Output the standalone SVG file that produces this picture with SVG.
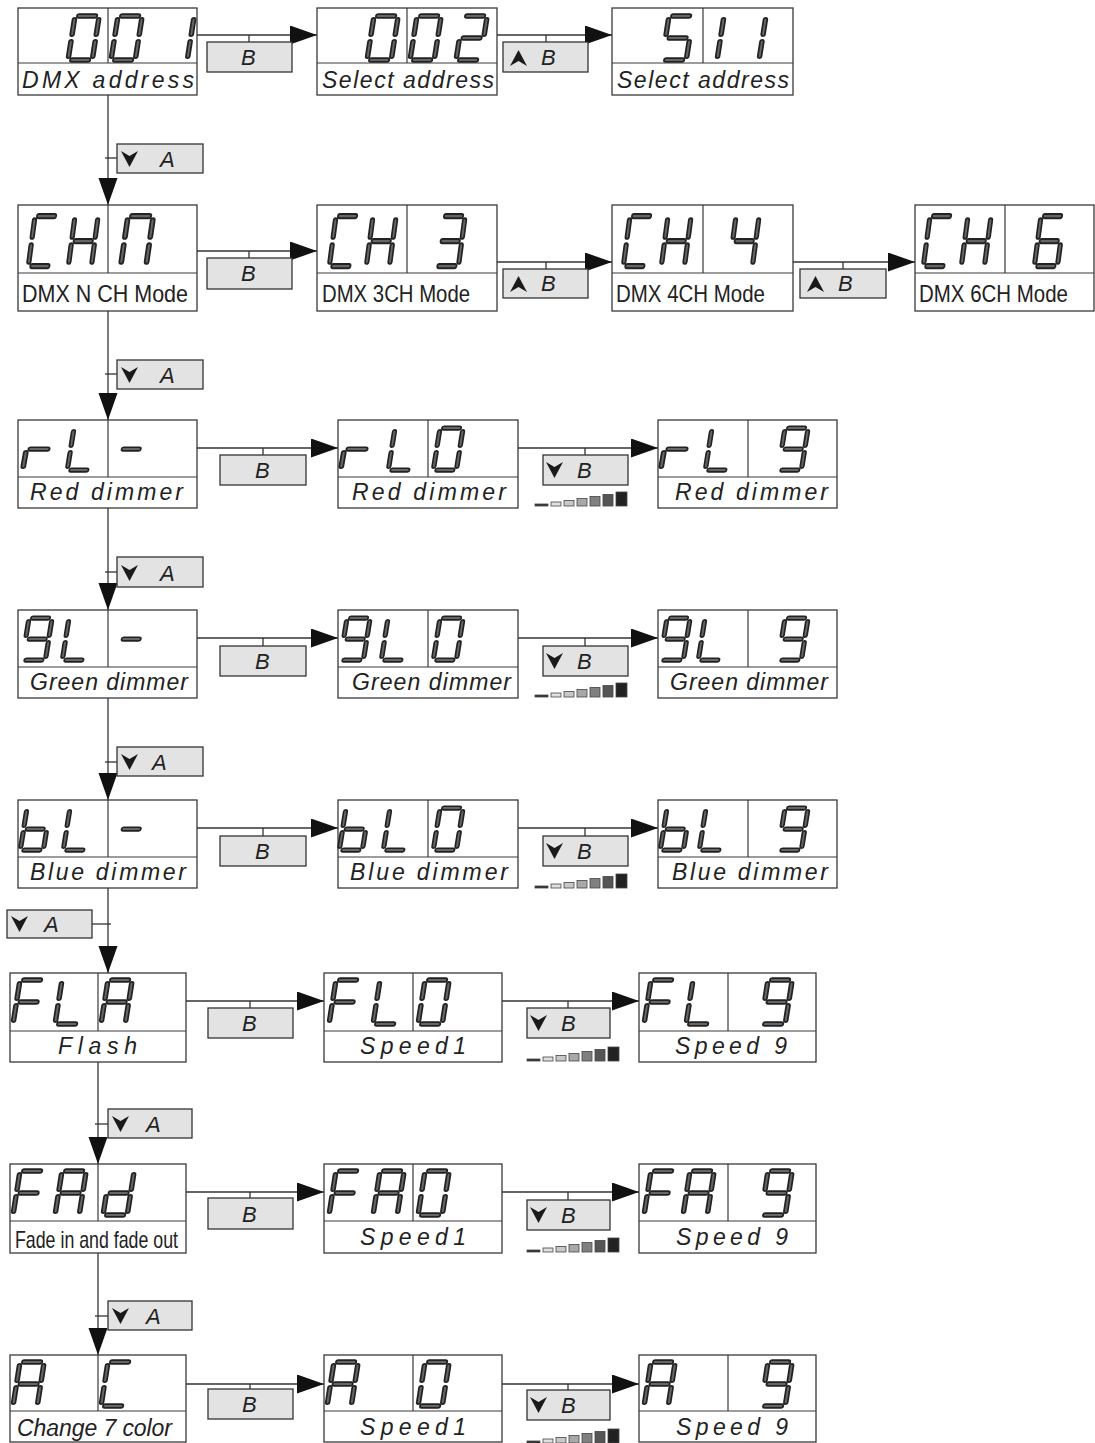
<svg xmlns="http://www.w3.org/2000/svg" xmlns:xlink="http://www.w3.org/1999/xlink" width="1095" height="1443" viewBox="0 0 1095 1443">
<style>
.box{fill:#fff;stroke:#3a3a3a;stroke-width:1.3}
.dv{stroke:#3a3a3a;stroke-width:1.2;fill:none}
.lbl{font-family:"Liberation Sans",Arial,sans-serif;font-style:italic;font-size:23px;fill:#222}
.nar{font-family:"Liberation Sans Narrow","Liberation Sans",Arial,sans-serif;font-size:24px;fill:#222}
.btn{fill:#e3e3e3;stroke:#333;stroke-width:1.3}
.bt{font-family:"Liberation Sans",Arial,sans-serif;font-style:italic;font-size:22px;fill:#222}
.cn{stroke:#333;stroke-width:1.3;fill:none}
.so{stroke:#222;stroke-width:5;stroke-linecap:round;fill:none}
.si{stroke:#666;stroke-width:1.8;stroke-linecap:round;fill:none}
.ic{fill:#1a1a1a}
</style>
<defs>
<marker id="ah" markerUnits="userSpaceOnUse" markerWidth="28" markerHeight="20" refX="27" refY="9.5" orient="auto">
<path d="M0,0 L27,9.5 L0,19 Z" fill="#111"/>
</marker>
<line id="sa" x1="3.5" y1="0" x2="18.5" y2="0"/>
<line id="sb" x1="22" y1="3.5" x2="22" y2="16.5"/>
<line id="sc" x1="22" y1="23.5" x2="22" y2="36.5"/>
<line id="sd" x1="3.5" y1="40" x2="18.5" y2="40"/>
<line id="se" x1="0" y1="23.5" x2="0" y2="36.5"/>
<line id="sf" x1="0" y1="3.5" x2="0" y2="16.5"/>
<line id="sg" x1="3.5" y1="20" x2="18.5" y2="20"/>
<g id="p0"><use href="#sa"/><use href="#sb"/><use href="#sc"/><use href="#sd"/><use href="#se"/><use href="#sf"/></g>
<g id="p1R"><use href="#sb"/><use href="#sc"/></g>
<g id="p1L"><use href="#se"/><use href="#sf"/></g>
<g id="p2"><use href="#sa"/><use href="#sb"/><use href="#sg"/><use href="#se"/><use href="#sd"/></g>
<g id="p3"><use href="#sa"/><use href="#sb"/><use href="#sg"/><use href="#sc"/><use href="#sd"/></g>
<g id="p4"><use href="#sf"/><use href="#sg"/><use href="#sb"/><use href="#sc"/></g>
<g id="p5"><use href="#sa"/><use href="#sf"/><use href="#sg"/><use href="#sc"/><use href="#sd"/></g>
<g id="p6"><use href="#sa"/><use href="#sf"/><use href="#sg"/><use href="#se"/><use href="#sd"/><use href="#sc"/></g>
<g id="p9"><use href="#sa"/><use href="#sb"/><use href="#sf"/><use href="#sg"/><use href="#sc"/><use href="#sd"/></g>
<g id="pC"><use href="#sa"/><use href="#sf"/><use href="#se"/><use href="#sd"/></g>
<g id="pH"><use href="#sf"/><use href="#se"/><use href="#sb"/><use href="#sc"/><use href="#sg"/></g>
<g id="pn"><use href="#sa"/><use href="#sb"/><use href="#sc"/><use href="#se"/><use href="#sf"/></g>
<g id="pr"><use href="#se"/><use href="#sg"/></g>
<g id="pL"><use href="#sf"/><use href="#se"/><use href="#sd"/></g>
<g id="pm"><use href="#sg"/></g>
<g id="pb"><use href="#sf"/><use href="#se"/><use href="#sd"/><use href="#sc"/><use href="#sg"/></g>
<g id="pF"><use href="#sa"/><use href="#sf"/><use href="#sg"/><use href="#se"/></g>
<g id="pA"><use href="#sa"/><use href="#sb"/><use href="#sc"/><use href="#se"/><use href="#sf"/><use href="#sg"/></g>
<g id="pd"><use href="#sb"/><use href="#sc"/><use href="#sd"/><use href="#se"/><use href="#sg"/></g>
<g id="c0" transform="skewX(-9)"><use href="#p0" class="so"/><use href="#p0" class="si"/></g>
<g id="c1R" transform="skewX(-9)"><use href="#p1R" class="so"/><use href="#p1R" class="si"/></g>
<g id="c1L" transform="skewX(-9)"><use href="#p1L" class="so"/><use href="#p1L" class="si"/></g>
<g id="c2" transform="skewX(-9)"><use href="#p2" class="so"/><use href="#p2" class="si"/></g>
<g id="c3" transform="skewX(-9)"><use href="#p3" class="so"/><use href="#p3" class="si"/></g>
<g id="c4" transform="skewX(-9)"><use href="#p4" class="so"/><use href="#p4" class="si"/></g>
<g id="c5" transform="skewX(-9)"><use href="#p5" class="so"/><use href="#p5" class="si"/></g>
<g id="c6" transform="skewX(-9)"><use href="#p6" class="so"/><use href="#p6" class="si"/></g>
<g id="c9" transform="skewX(-9)"><use href="#p9" class="so"/><use href="#p9" class="si"/></g>
<g id="cC" transform="skewX(-9)"><use href="#pC" class="so"/><use href="#pC" class="si"/></g>
<g id="cH" transform="skewX(-9)"><use href="#pH" class="so"/><use href="#pH" class="si"/></g>
<g id="cn" transform="skewX(-9)"><use href="#pn" class="so"/><use href="#pn" class="si"/></g>
<g id="cr" transform="skewX(-9)"><use href="#pr" class="so"/><use href="#pr" class="si"/></g>
<g id="cL" transform="skewX(-9)"><use href="#pL" class="so"/><use href="#pL" class="si"/></g>
<g id="cm" transform="skewX(-9)"><use href="#pm" class="so"/><use href="#pm" class="si"/></g>
<g id="cb" transform="skewX(-9)"><use href="#pb" class="so"/><use href="#pb" class="si"/></g>
<g id="cF" transform="skewX(-9)"><use href="#pF" class="so"/><use href="#pF" class="si"/></g>
<g id="cA" transform="skewX(-9)"><use href="#pA" class="so"/><use href="#pA" class="si"/></g>
<g id="cd" transform="skewX(-9)"><use href="#pd" class="so"/><use href="#pd" class="si"/></g>
<path id="up" class="ic" d="M0,16 L8.5,0 L17,16 L8.5,11 Z"/>
<path id="dn" class="ic" d="M0,0 L8.5,5 L17,0 L8.5,16 Z"/>
<g id="ramp" stroke="#444" stroke-width="0.8">
<rect x="0" y="12" width="13" height="2" fill="#333"/>
<rect x="16" y="10" width="10" height="4" fill="#e0e0e0"/>
<rect x="29" y="8.5" width="10" height="5.5" fill="#c8c8c8"/>
<rect x="42" y="6.5" width="10" height="7.5" fill="#a8a8a8"/>
<rect x="55" y="4.5" width="10" height="9.5" fill="#808080"/>
<rect x="68" y="2.5" width="10" height="11.5" fill="#555"/>
<rect x="81" y="0" width="11" height="14" fill="#222"/>
</g>
</defs>

<g id="connectors">
<line class="cn" x1="108" y1="95" x2="108" y2="205" marker-end="url(#ah)"/>
<line class="cn" x1="105" y1="158" x2="117" y2="158"/>
<rect class="btn" x="117" y="144" width="86" height="29"/><use href="#dn" x="121" y="151"/><text class="bt" x="160" y="167">A</text>

<line class="cn" x1="108" y1="311" x2="108" y2="420" marker-end="url(#ah)"/>
<line class="cn" x1="105" y1="374" x2="117" y2="374"/>
<rect class="btn" x="117" y="360" width="86" height="29"/><use href="#dn" x="121" y="367"/><text class="bt" x="160" y="383">A</text>

<line class="cn" x1="108" y1="508" x2="108" y2="610" marker-end="url(#ah)"/>
<line class="cn" x1="105" y1="572" x2="117" y2="572"/>
<rect class="btn" x="117" y="557" width="86" height="30"/><use href="#dn" x="121" y="565"/><text class="bt" x="160" y="581">A</text>

<line class="cn" x1="108" y1="698" x2="108" y2="800" marker-end="url(#ah)"/>
<line class="cn" x1="105" y1="762" x2="117" y2="762"/>
<rect class="btn" x="117" y="747" width="86" height="29"/><use href="#dn" x="121" y="754"/><text class="bt" x="152" y="770">A</text>

<line class="cn" x1="108" y1="888" x2="108" y2="973" marker-end="url(#ah)"/>
<line class="cn" x1="92" y1="924" x2="111" y2="924"/>
<rect class="btn" x="7" y="910" width="85" height="28"/><use href="#dn" x="11" y="916"/><text class="bt" x="44" y="932">A</text>

<line class="cn" x1="98" y1="1062" x2="98" y2="1164" marker-end="url(#ah)"/>
<line class="cn" x1="95" y1="1124" x2="108" y2="1124"/>
<rect class="btn" x="108" y="1109" width="84" height="29"/><use href="#dn" x="112" y="1116"/><text class="bt" x="146" y="1132">A</text>

<line class="cn" x1="98" y1="1253" x2="98" y2="1355" marker-end="url(#ah)"/>
<line class="cn" x1="95" y1="1316" x2="108" y2="1316"/>
<rect class="btn" x="108" y="1301" width="84" height="29"/><use href="#dn" x="112" y="1308"/><text class="bt" x="146" y="1324">A</text>

<line class="cn" x1="197" y1="35" x2="317" y2="35" marker-end="url(#ah)"/>
<line class="cn" x1="249" y1="35" x2="249" y2="42"/>
<rect class="btn" x="207" y="42" width="85" height="30"/><text class="bt" x="241" y="65">B</text>
<line class="cn" x1="497" y1="35" x2="612" y2="35" marker-end="url(#ah)"/>
<line class="cn" x1="546" y1="35" x2="546" y2="42"/>
<rect class="btn" x="503" y="42" width="85" height="30"/><use href="#up" x="510" y="50"/><text class="bt" x="541" y="65">B</text>

<line class="cn" x1="197" y1="251" x2="317" y2="251" marker-end="url(#ah)"/>
<line class="cn" x1="249" y1="251" x2="249" y2="258"/>
<rect class="btn" x="207" y="258" width="85" height="31"/><text class="bt" x="241" y="281">B</text>
<line class="cn" x1="497" y1="262" x2="612" y2="262" marker-end="url(#ah)"/>
<line class="cn" x1="546" y1="262" x2="546" y2="269"/>
<rect class="btn" x="503" y="269" width="85" height="29"/><use href="#up" x="510" y="276"/><text class="bt" x="541" y="291">B</text>
<line class="cn" x1="793" y1="262" x2="915" y2="262" marker-end="url(#ah)"/>
<line class="cn" x1="843" y1="262" x2="843" y2="269"/>
<rect class="btn" x="800" y="269" width="86" height="29"/><use href="#up" x="807" y="276"/><text class="bt" x="838" y="291">B</text>

<line class="cn" x1="197" y1="448" x2="338" y2="448" marker-end="url(#ah)"/>
<line class="cn" x1="263" y1="448" x2="263" y2="455"/>
<rect class="btn" x="220" y="455" width="86" height="30"/><text class="bt" x="255" y="478">B</text>
<line class="cn" x1="518" y1="448" x2="658" y2="448" marker-end="url(#ah)"/>
<line class="cn" x1="585" y1="448" x2="585" y2="455"/>
<rect class="btn" x="543" y="455" width="85" height="30"/><use href="#dn" x="546" y="462"/><text class="bt" x="577" y="478">B</text>
<use href="#ramp" x="535" y="492"/>

<line class="cn" x1="197" y1="638" x2="338" y2="638" marker-end="url(#ah)"/>
<line class="cn" x1="263" y1="638" x2="263" y2="646"/>
<rect class="btn" x="220" y="646" width="86" height="30"/><text class="bt" x="255" y="669">B</text>
<line class="cn" x1="518" y1="638" x2="658" y2="638" marker-end="url(#ah)"/>
<line class="cn" x1="585" y1="638" x2="585" y2="646"/>
<rect class="btn" x="543" y="646" width="85" height="30"/><use href="#dn" x="546" y="653"/><text class="bt" x="577" y="669">B</text>
<use href="#ramp" x="535" y="683"/>

<line class="cn" x1="197" y1="828" x2="338" y2="828" marker-end="url(#ah)"/>
<line class="cn" x1="263" y1="828" x2="263" y2="836"/>
<rect class="btn" x="220" y="836" width="86" height="30"/><text class="bt" x="255" y="859">B</text>
<line class="cn" x1="518" y1="828" x2="658" y2="828" marker-end="url(#ah)"/>
<line class="cn" x1="585" y1="828" x2="585" y2="836"/>
<rect class="btn" x="543" y="836" width="85" height="30"/><use href="#dn" x="546" y="843"/><text class="bt" x="577" y="859">B</text>
<use href="#ramp" x="535" y="874"/>

<line class="cn" x1="186" y1="1001" x2="324" y2="1001" marker-end="url(#ah)"/>
<line class="cn" x1="250" y1="1001" x2="250" y2="1008"/>
<rect class="btn" x="208" y="1008" width="85" height="30"/><text class="bt" x="242" y="1031">B</text>
<line class="cn" x1="502" y1="1001" x2="639" y2="1001" marker-end="url(#ah)"/>
<line class="cn" x1="568" y1="1001" x2="568" y2="1008"/>
<rect class="btn" x="527" y="1008" width="83" height="30"/><use href="#dn" x="530" y="1015"/><text class="bt" x="561" y="1031">B</text>
<use href="#ramp" x="527" y="1047"/>

<line class="cn" x1="186" y1="1192" x2="324" y2="1192" marker-end="url(#ah)"/>
<line class="cn" x1="250" y1="1192" x2="250" y2="1198"/>
<rect class="btn" x="208" y="1198" width="85" height="31"/><text class="bt" x="242" y="1222">B</text>
<line class="cn" x1="502" y1="1192" x2="639" y2="1192" marker-end="url(#ah)"/>
<line class="cn" x1="568" y1="1192" x2="568" y2="1200"/>
<rect class="btn" x="527" y="1200" width="83" height="30"/><use href="#dn" x="530" y="1207"/><text class="bt" x="561" y="1223">B</text>
<use href="#ramp" x="527" y="1238"/>

<line class="cn" x1="186" y1="1384" x2="324" y2="1384" marker-end="url(#ah)"/>
<line class="cn" x1="250" y1="1384" x2="250" y2="1389"/>
<rect class="btn" x="208" y="1389" width="85" height="30"/><text class="bt" x="242" y="1412">B</text>
<line class="cn" x1="502" y1="1384" x2="639" y2="1384" marker-end="url(#ah)"/>
<line class="cn" x1="568" y1="1384" x2="568" y2="1390"/>
<rect class="btn" x="527" y="1390" width="83" height="30"/><use href="#dn" x="530" y="1397"/><text class="bt" x="561" y="1413">B</text>
<use href="#ramp" x="527" y="1429"/>
</g>

<g id="n-dmx-address">
<rect class="box" x="18" y="8" width="179" height="87"/>
<line class="dv" x1="18" y1="63" x2="197" y2="63"/><line class="dv" x1="108" y1="8" x2="108" y2="63"/>
<use href="#c0" transform="translate(75,16) scale(1.1)"/><use href="#c0" transform="translate(118,16) scale(1.1)"/><use href="#c1R" transform="translate(170,16) scale(1.1)"/>
<text class="lbl" x="22" y="88" textLength="172" lengthAdjust="spacing">DMX address</text>
</g>
<g id="n-select-002">
<rect class="box" x="317" y="8" width="180" height="87"/>
<line class="dv" x1="317" y1="63" x2="497" y2="63"/><line class="dv" x1="407" y1="8" x2="407" y2="63"/>
<use href="#c0" transform="translate(374,16) scale(1.1)"/><use href="#c0" transform="translate(417,16) scale(1.1)"/><use href="#c2" transform="translate(463,16) scale(1.1)"/>
<text class="lbl" x="322" y="88" textLength="172" lengthAdjust="spacing">Select address</text>
</g>
<g id="n-select-511">
<rect class="box" x="612" y="8" width="181" height="87"/>
<line class="dv" x1="612" y1="63" x2="793" y2="63"/><line class="dv" x1="703" y1="8" x2="703" y2="63"/>
<use href="#c5" transform="translate(669,16) scale(1.1)"/><use href="#c1L" transform="translate(724,16) scale(1.1)"/><use href="#c1L" transform="translate(766,16) scale(1.1)"/>
<text class="lbl" x="617" y="88" textLength="172" lengthAdjust="spacing">Select address</text>
</g>

<g id="n-chn">
<rect class="box" x="18" y="205" width="179" height="106"/>
<line class="dv" x1="18" y1="273" x2="197" y2="273"/><line class="dv" x1="108" y1="205" x2="108" y2="273"/>
<use href="#cC" transform="translate(35,216) scale(1.05,1.25)"/><use href="#cH" transform="translate(75,216) scale(1.05,1.25)"/><use href="#cn" transform="translate(128,216) scale(1.15,1.25)"/>
<text class="nar" x="22" y="302" textLength="166" lengthAdjust="spacingAndGlyphs">DMX N CH Mode</text>
</g>
<g id="n-ch3">
<rect class="box" x="317" y="205" width="180" height="106"/>
<line class="dv" x1="317" y1="273" x2="497" y2="273"/><line class="dv" x1="407" y1="205" x2="407" y2="273"/>
<use href="#cC" transform="translate(336,216) scale(1.05,1.25)"/><use href="#cH" transform="translate(373,216) scale(1.05,1.25)"/><use href="#c3" transform="translate(442,216) scale(1.05,1.25)"/>
<text class="nar" x="322" y="302" textLength="148" lengthAdjust="spacingAndGlyphs">DMX 3CH Mode</text>
</g>
<g id="n-ch4">
<rect class="box" x="612" y="205" width="181" height="106"/>
<line class="dv" x1="612" y1="273" x2="793" y2="273"/><line class="dv" x1="703" y1="205" x2="703" y2="273"/>
<use href="#cC" transform="translate(630,216) scale(1.05,1.25)"/><use href="#cH" transform="translate(668,216) scale(1.05,1.25)"/><use href="#c4" transform="translate(736,216) scale(1.05,1.25)"/>
<text class="nar" x="616" y="302" textLength="149" lengthAdjust="spacingAndGlyphs">DMX 4CH Mode</text>
</g>
<g id="n-ch6">
<rect class="box" x="915" y="205" width="179" height="106"/>
<line class="dv" x1="915" y1="273" x2="1094" y2="273"/><line class="dv" x1="1005" y1="205" x2="1005" y2="273"/>
<use href="#cC" transform="translate(930,216) scale(1.05,1.25)"/><use href="#cH" transform="translate(968,216) scale(1.05,1.25)"/><use href="#c6" transform="translate(1041,216) scale(1.05,1.25)"/>
<text class="nar" x="919" y="302" textLength="149" lengthAdjust="spacingAndGlyphs">DMX 6CH Mode</text>
</g>

<g id="n-red">
<rect class="box" x="18" y="420" width="179" height="88"/>
<line class="dv" x1="18" y1="477" x2="197" y2="477"/><line class="dv" x1="108" y1="420" x2="108" y2="477"/>
<use href="#cr" transform="translate(30,428) scale(1.15,1.05)"/><use href="#cL" transform="translate(74,428) scale(1.05)"/><use href="#cm" transform="translate(123,428) scale(1.05)"/>
<text class="lbl" x="30" y="500" textLength="153" lengthAdjust="spacing">Red dimmer</text>
</g>
<g id="n-red-0">
<rect class="box" x="338" y="420" width="180" height="88"/>
<line class="dv" x1="338" y1="477" x2="518" y2="477"/><line class="dv" x1="428" y1="420" x2="428" y2="477"/>
<use href="#cr" transform="translate(348,428) scale(1.15,1.05)"/><use href="#cL" transform="translate(395,428) scale(1.05)"/><use href="#c0" transform="translate(440,428) scale(1.05)"/>
<text class="lbl" x="352" y="500" textLength="154" lengthAdjust="spacing">Red dimmer</text>
</g>
<g id="n-red-9">
<rect class="box" x="658" y="420" width="179" height="88"/>
<line class="dv" x1="658" y1="477" x2="837" y2="477"/><line class="dv" x1="748" y1="420" x2="748" y2="477"/>
<use href="#cr" transform="translate(668,428) scale(1.15,1.05)"/><use href="#cL" transform="translate(712,428) scale(1.05)"/><use href="#c9" transform="translate(785,428) scale(1.05)"/>
<text class="lbl" x="675" y="500" textLength="153" lengthAdjust="spacing">Red dimmer</text>
</g>

<g id="n-green">
<rect class="box" x="18" y="610" width="179" height="88"/>
<line class="dv" x1="18" y1="667" x2="197" y2="667"/><line class="dv" x1="108" y1="610" x2="108" y2="667"/>
<use href="#c9" transform="translate(29,618) scale(1.05)"/><use href="#cL" transform="translate(69,618) scale(1.05)"/><use href="#cm" transform="translate(123,618) scale(1.05)"/>
<text class="lbl" x="30" y="690" textLength="158" lengthAdjust="spacing">Green dimmer</text>
</g>
<g id="n-green-0">
<rect class="box" x="338" y="610" width="180" height="88"/>
<line class="dv" x1="338" y1="667" x2="518" y2="667"/><line class="dv" x1="428" y1="610" x2="428" y2="667"/>
<use href="#c9" transform="translate(347,618) scale(1.05)"/><use href="#cL" transform="translate(388,618) scale(1.05)"/><use href="#c0" transform="translate(440,618) scale(1.05)"/>
<text class="lbl" x="352" y="690" textLength="159" lengthAdjust="spacing">Green dimmer</text>
</g>
<g id="n-green-9">
<rect class="box" x="658" y="610" width="179" height="88"/>
<line class="dv" x1="658" y1="667" x2="837" y2="667"/><line class="dv" x1="748" y1="610" x2="748" y2="667"/>
<use href="#c9" transform="translate(667,618) scale(1.05)"/><use href="#cL" transform="translate(705,618) scale(1.05)"/><use href="#c9" transform="translate(785,618) scale(1.05)"/>
<text class="lbl" x="670" y="690" textLength="158" lengthAdjust="spacing">Green dimmer</text>
</g>

<g id="n-blue">
<rect class="box" x="18" y="800" width="179" height="88"/>
<line class="dv" x1="18" y1="857" x2="197" y2="857"/><line class="dv" x1="108" y1="800" x2="108" y2="857"/>
<use href="#cb" transform="translate(27,808) scale(1.05)"/><use href="#cL" transform="translate(70,808) scale(1.05)"/><use href="#cm" transform="translate(123,808) scale(1.05)"/>
<text class="lbl" x="30" y="880" textLength="156" lengthAdjust="spacing">Blue dimmer</text>
</g>
<g id="n-blue-0">
<rect class="box" x="338" y="800" width="180" height="88"/>
<line class="dv" x1="338" y1="857" x2="518" y2="857"/><line class="dv" x1="428" y1="800" x2="428" y2="857"/>
<use href="#cb" transform="translate(346,808) scale(1.05)"/><use href="#cL" transform="translate(390,808) scale(1.05)"/><use href="#c0" transform="translate(440,808) scale(1.05)"/>
<text class="lbl" x="350" y="880" textLength="158" lengthAdjust="spacing">Blue dimmer</text>
</g>
<g id="n-blue-9">
<rect class="box" x="658" y="800" width="179" height="88"/>
<line class="dv" x1="658" y1="857" x2="837" y2="857"/><line class="dv" x1="748" y1="800" x2="748" y2="857"/>
<use href="#cb" transform="translate(667,808) scale(1.05)"/><use href="#cL" transform="translate(706,808) scale(1.05)"/><use href="#c9" transform="translate(785,808) scale(1.05)"/>
<text class="lbl" x="672" y="880" textLength="156" lengthAdjust="spacing">Blue dimmer</text>
</g>

<g id="n-flash">
<rect class="box" x="10" y="973" width="176" height="89"/>
<line class="dv" x1="10" y1="1031" x2="186" y2="1031"/><line class="dv" x1="98" y1="973" x2="98" y2="1031"/>
<use href="#cF" transform="translate(20,980) scale(1.1)"/><use href="#cL" transform="translate(62,980) scale(1.1)"/><use href="#cA" transform="translate(108,980) scale(1.1)"/>
<text class="lbl" x="58" y="1054" textLength="79" lengthAdjust="spacing">Flash</text>
</g>
<g id="n-flash-0">
<rect class="box" x="324" y="973" width="178" height="89"/>
<line class="dv" x1="324" y1="1031" x2="502" y2="1031"/><line class="dv" x1="413" y1="973" x2="413" y2="1031"/>
<use href="#cF" transform="translate(336,980) scale(1.1)"/><use href="#cL" transform="translate(380,980) scale(1.1)"/><use href="#c0" transform="translate(425,980) scale(1.1)"/>
<text class="lbl" x="360" y="1054" textLength="106" lengthAdjust="spacing">Speed1</text>
</g>
<g id="n-flash-9">
<rect class="box" x="639" y="973" width="177" height="89"/>
<line class="dv" x1="639" y1="1031" x2="816" y2="1031"/><line class="dv" x1="728" y1="973" x2="728" y2="1031"/>
<use href="#cF" transform="translate(651,980) scale(1.1)"/><use href="#cL" transform="translate(693,980) scale(1.1)"/><use href="#c9" transform="translate(768,980) scale(1.1)"/>
<text class="lbl" x="675" y="1054" textLength="112" lengthAdjust="spacing">Speed 9</text>
</g>

<g id="n-fade">
<rect class="box" x="10" y="1164" width="176" height="89"/>
<line class="dv" x1="10" y1="1221" x2="186" y2="1221"/><line class="dv" x1="98" y1="1164" x2="98" y2="1221"/>
<use href="#cF" transform="translate(20,1171) scale(1.1)"/><use href="#cA" transform="translate(62,1171) scale(1.1)"/><use href="#cd" transform="translate(110,1171) scale(1.1)"/>
<text class="nar" x="15" y="1248" textLength="163" lengthAdjust="spacingAndGlyphs">Fade in and fade out</text>
</g>
<g id="n-fade-0">
<rect class="box" x="324" y="1164" width="178" height="89"/>
<line class="dv" x1="324" y1="1221" x2="502" y2="1221"/><line class="dv" x1="413" y1="1164" x2="413" y2="1221"/>
<use href="#cF" transform="translate(336,1171) scale(1.1)"/><use href="#cA" transform="translate(380,1171) scale(1.1)"/><use href="#c0" transform="translate(425,1171) scale(1.1)"/>
<text class="lbl" x="360" y="1245" textLength="106" lengthAdjust="spacing">Speed1</text>
</g>
<g id="n-fade-9">
<rect class="box" x="639" y="1164" width="177" height="89"/>
<line class="dv" x1="639" y1="1221" x2="816" y2="1221"/><line class="dv" x1="728" y1="1164" x2="728" y2="1221"/>
<use href="#cF" transform="translate(651,1171) scale(1.1)"/><use href="#cA" transform="translate(690,1171) scale(1.1)"/><use href="#c9" transform="translate(768,1171) scale(1.1)"/>
<text class="lbl" x="676" y="1245" textLength="112" lengthAdjust="spacing">Speed 9</text>
</g>

<g id="n-change">
<rect class="box" x="10" y="1355" width="176" height="87"/>
<line class="dv" x1="10" y1="1411" x2="186" y2="1411"/><line class="dv" x1="98" y1="1355" x2="98" y2="1411"/>
<use href="#cA" transform="translate(20,1362) scale(1.1)"/><use href="#cC" transform="translate(108,1362) scale(1.1)"/>
<text class="lbl" x="17" y="1436" textLength="155" lengthAdjust="spacing">Change 7 color</text>
</g>
<g id="n-change-0">
<rect class="box" x="324" y="1355" width="178" height="87"/>
<line class="dv" x1="324" y1="1411" x2="502" y2="1411"/><line class="dv" x1="413" y1="1355" x2="413" y2="1411"/>
<use href="#cA" transform="translate(334,1362) scale(1.1)"/><use href="#c0" transform="translate(425,1362) scale(1.1)"/>
<text class="lbl" x="360" y="1435" textLength="106" lengthAdjust="spacing">Speed1</text>
</g>
<g id="n-change-9">
<rect class="box" x="639" y="1355" width="177" height="87"/>
<line class="dv" x1="639" y1="1411" x2="816" y2="1411"/><line class="dv" x1="728" y1="1355" x2="728" y2="1411"/>
<use href="#cA" transform="translate(651,1362) scale(1.1)"/><use href="#c9" transform="translate(768,1362) scale(1.1)"/>
<text class="lbl" x="676" y="1435" textLength="112" lengthAdjust="spacing">Speed 9</text>
</g>
</svg>
